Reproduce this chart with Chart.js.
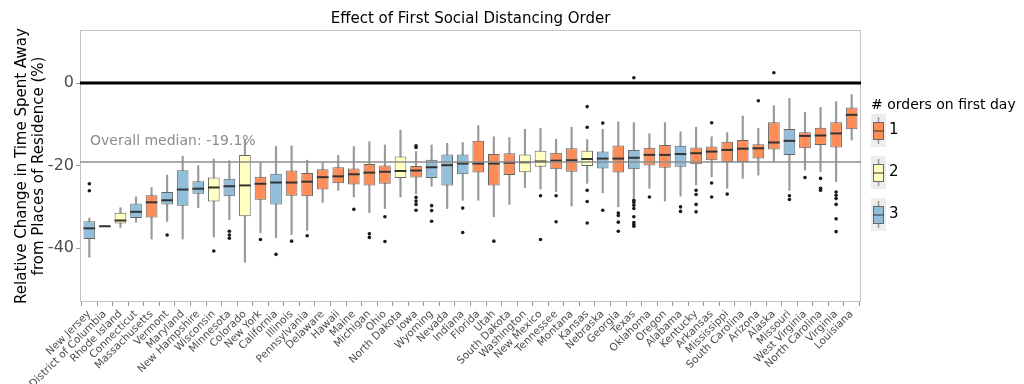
<!DOCTYPE html>
<html>
<head>
<meta charset="utf-8">
<script src="https://cdn.jsdelivr.net/npm/chart.js@4/dist/chart.umd.min.js"></script>
<style>
  html, body { margin: 0; padding: 0; background: #fff; }
  #wrap { width: 1024px; height: 384px; }
</style>
</head>
<body>
<div id="wrap"><canvas id="chart"></canvas></div>
<script>
// states, ordered by median change
const states = ['New Jersey', 'District of Columbia', 'Rhode Island', 'Connecticut', 'Massachusetts',
  'Vermont', 'Maryland', 'New Hampshire', 'Wisconsin', 'Minnesota', 'Colorado', 'New York',
  'California', 'Illinois', 'Pennsylvania', 'Delaware', 'Hawaii', 'Maine', 'Michigan', 'Ohio',
  'North Dakota', 'Iowa', 'Wyoming', 'Nevada', 'Indiana', 'Florida', 'Utah', 'South Dakota',
  'Washington', 'New Mexico', 'Tennessee', 'Montana', 'Kansas', 'Nebraska', 'Georgia', 'Texas',
  'Oklahoma', 'Oregon', 'Alabama', 'Kentucky', 'Arkansas', 'Mississippi', 'South Carolina',
  'Arizona', 'Alaska', 'Missouri', 'West Virginia', 'North Carolina', 'Virginia', 'Louisiana'];

// # orders on first day
const orders = [3, 1, 2, 3, 1, 3, 3, 3, 2, 3, 2, 1, 3, 1, 1, 1, 1, 1, 1, 1,
  2, 1, 3, 3, 3, 1, 1, 1, 2, 2, 1, 1, 2, 3, 1, 3, 1, 1, 3, 1,
  1, 1, 1, 1, 1, 3, 1, 1, 1, 1];

const whiskerLow = [-42.2, -34.8, -35.0, -33.7, -37.8, -33.5, -37.8, -30.2, -37.3, -33.1,
  -43.4, -36.3, -37.5, -36.7, -35.7, -28.9, -26.0, -27.6, -31.4, -30.4,
  -27.6, -26.8, -25.0, -30.4, -28.4, -28.4, -32.4, -29.4, -25.3, -25.7,
  -26.3, -29.8, -24.3, -26.6, -30.0, -27.9, -25.5, -28.6, -27.4, -24.7,
  -22.7, -25.5, -23.1, -22.3, -19.1, -26.0, -21.1, -21.5, -23.9, -13.8];
const q1 = [-37.8, -34.8, -34.0, -32.7, -32.6, -29.4, -29.7, -26.8, -28.7, -27.4,
  -32.3, -28.3, -29.4, -27.3, -27.4, -25.8, -24.3, -24.6, -24.8, -24.4,
  -23.0, -22.9, -23.0, -24.8, -22.1, -21.7, -24.8, -22.3, -21.6, -20.3,
  -20.9, -21.5, -20.1, -20.7, -21.7, -20.9, -20.0, -20.5, -20.3, -19.7,
  -18.7, -19.1, -19.1, -18.3, -16.1, -17.4, -15.8, -15.0, -15.6, -11.2];
const median = [-35.2, -34.7, -33.3, -31.2, -28.9, -28.4, -25.8, -25.6, -25.3, -25.0,
  -24.8, -24.4, -24.1, -24.1, -23.9, -22.8, -22.6, -22.1, -21.7, -21.5,
  -21.3, -21.2, -20.4, -19.9, -19.5, -19.5, -19.5, -19.3, -19.2, -19.0,
  -18.8, -18.7, -18.4, -18.3, -18.3, -18.1, -17.4, -17.4, -17.2, -17.0,
  -16.6, -16.2, -15.9, -15.8, -14.4, -14.0, -12.8, -12.7, -12.2, -7.7];
const q3 = [-33.5, -34.6, -31.4, -29.2, -27.2, -26.4, -21.1, -23.8, -22.9, -23.2,
  -17.4, -22.7, -22.0, -21.2, -21.8, -20.9, -20.4, -20.7, -19.6, -20.0,
  -17.8, -20.1, -18.6, -17.3, -17.3, -14.0, -17.2, -17.0, -17.3, -16.4,
  -16.9, -15.8, -16.4, -16.6, -15.1, -16.2, -15.7, -15.0, -15.2, -15.6,
  -15.4, -14.2, -13.8, -14.8, -9.5, -11.1, -11.9, -10.8, -9.5, -5.9];
const whiskerHigh = [-32.7, -34.6, -30.2, -27.6, -25.3, -22.3, -17.7, -20.0, -18.4, -18.8,
  -13.8, -19.3, -15.3, -15.2, -18.7, -19.3, -17.5, -15.4, -14.2, -15.0,
  -11.4, -16.6, -15.0, -14.6, -14.4, -10.3, -13.0, -13.2, -11.2, -11.0,
  -13.6, -10.7, -13.7, -11.2, -9.4, -9.6, -12.3, -9.6, -11.8, -10.7,
  -13.0, -12.0, -8.0, -11.0, -5.5, -3.7, -7.1, -5.9, -4.5, -2.8];
const outliers = [[-24.4, -26.1], [], [], [], [], [-36.8], [], [], [-40.7], [-35.9, -36.8, -37.6],
  [], [-37.9], [-41.5], [-38.3], [-37.0], [], [], [-30.6], [-36.5, -37.4], [-32.4, -38.4],
  [], [-15.2, -15.6, -27.7, -28.6, -29.4, -30.8], [-29.7, -30.9, -33.5], [], [-30.3, -36.2], [], [-38.3], [], [], [-27.3, -37.9],
  [-27.3, -33.6], [], [-5.7, -10.7, -26.0, -28.7, -33.9], [-9.7, -30.8], [-31.5, -32.1, -33.7, -35.9],
  [1.3, -28.4, -28.9, -29.6, -30.4, -32.4, -33.8, -34.3, -34.7], [-27.6], [], [-30.0, -31.1], [-26.0, -27.0, -29.4, -31.2],
  [-9.6, -24.2, -27.6], [-26.9], [], [-4.3], [2.5], [-27.3, -28.2], [-22.9], [-23.1, -25.5, -26.0], [-26.4, -27.2, -28.0, -29.4, -32.9, -36.0], []];

const overallMedian = -19.1;
const yTicks = [-40, -20, 0];
const legendGroups = [1, 2, 3];

const FONT = "'DejaVu Sans', sans-serif";
const groupColors = { 1: '#fc8d59', 2: '#ffffbf', 3: '#91bfdb' };
const idx = states.map((_, i) => i);

// half a box width in pixels, so the median tick spans the box
const halfBox = (ctx) => {
  const s = ctx.chart.scales.x;
  return Math.abs(s.getPixelForValue(0.375) - s.getPixelForValue(0));
};

// panel frame, median note and the boxplot legend
const extras = {
  id: 'extras',
  beforeDatasetsDraw(chart) {
    const { ctx, chartArea: a } = chart;
    ctx.save();
    ctx.strokeStyle = '#c4c4c4';
    ctx.lineWidth = 1;
    ctx.strokeRect(a.left + 0.5, a.top + 0.5, a.width - 1, a.height - 1);
    ctx.restore();
  },
  afterDraw(chart) {
    const { ctx, chartArea: a, scales: { y } } = chart;
    ctx.save();
    ctx.textBaseline = 'middle';
    ctx.fillStyle = '#8c8c8c';
    ctx.font = `14px ${FONT}`;
    ctx.fillText(`Overall median: ${overallMedian}%`, a.left + 10, y.getPixelForValue(overallMedian) - 21);

    const lx = a.right + 10;
    ctx.fillStyle = '#000';
    ctx.font = `14px ${FONT}`;
    ctx.fillText('# orders on first day', lx, 105);
    legendGroups.forEach((g, k) => {
      const top = 114 + k * 42;
      ctx.fillStyle = '#ededed';
      ctx.fillRect(lx, top, 15, 33);
      ctx.strokeStyle = '#9a9a9a';
      ctx.lineWidth = 1.5;
      ctx.beginPath();
      ctx.moveTo(lx + 7.5, top + 3);
      ctx.lineTo(lx + 7.5, top + 30);
      ctx.stroke();
      ctx.fillStyle = groupColors[g];
      ctx.fillRect(lx + 2, top + 8, 11, 18);
      ctx.strokeStyle = '#666';
      ctx.lineWidth = 1;
      ctx.strokeRect(lx + 2.5, top + 8.5, 10, 17);
      ctx.strokeStyle = '#333';
      ctx.beginPath();
      ctx.moveTo(lx + 2, top + 17);
      ctx.lineTo(lx + 13, top + 17);
      ctx.stroke();
      ctx.fillStyle = '#000';
      ctx.font = `15px ${FONT}`;
      ctx.fillText(String(g), lx + 18, top + 16);
    });
    ctx.restore();
  }
};

new Chart(document.getElementById('chart'), {
  type: 'bar',
  data: {
    datasets: [
      {
        type: 'line', label: 'zero',
        data: [{ x: -0.6, y: 0 }, { x: 49.6, y: 0 }],
        borderColor: '#000', borderWidth: 3, pointRadius: 0, order: 1
      },
      {
        type: 'line', label: 'overall median',
        data: [{ x: -0.6, y: overallMedian }, { x: 49.6, y: overallMedian }],
        borderColor: '#8c8c8c', borderWidth: 1.5, pointRadius: 0, order: 1
      },
      {
        type: 'scatter', label: 'outliers',
        data: outliers.flatMap((vals, i) => vals.map(v => ({ x: i, y: v }))),
        pointRadius: 1.8, backgroundColor: '#1a1a1a', borderWidth: 0, order: 2
      },
      {
        type: 'scatter', label: 'median',
        data: idx.map(i => ({ x: i, y: median[i] })),
        pointStyle: 'line', radius: halfBox, borderColor: '#333', borderWidth: 2, order: 3
      },
      {
        type: 'bar', label: 'box',
        data: idx.map(i => ({ x: i, y: [q1[i], q3[i]] })),
        backgroundColor: orders.map(g => groupColors[g]),
        borderColor: '#666', borderWidth: 1, borderSkipped: false,
        grouped: false, barPercentage: 0.75, categoryPercentage: 1, order: 4
      },
      {
        type: 'bar', label: 'whisker',
        data: idx.map(i => ({ x: i, y: [whiskerLow[i], whiskerHigh[i]] })),
        backgroundColor: '#9a9a9a', barThickness: 1.5, grouped: false, order: 5
      }
    ]
  },
  options: {
    responsive: true,
    maintainAspectRatio: false,
    animation: false,
    events: [],
    layout: { padding: { top: 0, right: 163, bottom: 0, left: 0 } },
    plugins: {
      legend: { display: false },
      tooltip: { enabled: false },
      title: {
        display: true, text: 'Effect of First Social Distancing Order', fullSize: false,
        color: '#000', font: { family: FONT, size: 15, weight: 'normal' },
        padding: { top: 10, bottom: 2 }
      }
    },
    scales: {
      x: {
        type: 'linear', min: -0.6, max: 49.6, offset: false,
        afterBuildTicks: (s) => { s.ticks = idx.map(v => ({ value: v })); },
        afterFit: (s) => { s.height = 82; },
        ticks: {
          autoSkip: false, minRotation: 45, maxRotation: 45, padding: 2,
          color: '#4d4d4d', font: { family: FONT, size: 10.5 },
          callback: (v) => states[v]
        },
        grid: { drawOnChartArea: false, drawTicks: true, tickLength: 4, tickColor: '#999' },
        border: { display: false }
      },
      y: {
        min: -53.05, max: 12.86,
        afterBuildTicks: (s) => { s.ticks = yTicks.map(v => ({ value: v })); },
        afterFit: (s) => { s.width = 80; },
        ticks: { padding: 2, color: '#4d4d4d', font: { family: FONT, size: 16 } },
        grid: { drawOnChartArea: false, drawTicks: true, tickLength: 4, tickColor: '#999' },
        border: { display: false },
        title: {
          display: true,
          text: ['Relative Change in Time Spent Away', 'from Places of Residence (%)'],
          color: '#000', font: { family: FONT, size: 15, lineHeight: 1.1 },
          padding: { top: 14 }
        }
      }
    }
  },
  plugins: [extras]
});
</script>
</body>
</html>
